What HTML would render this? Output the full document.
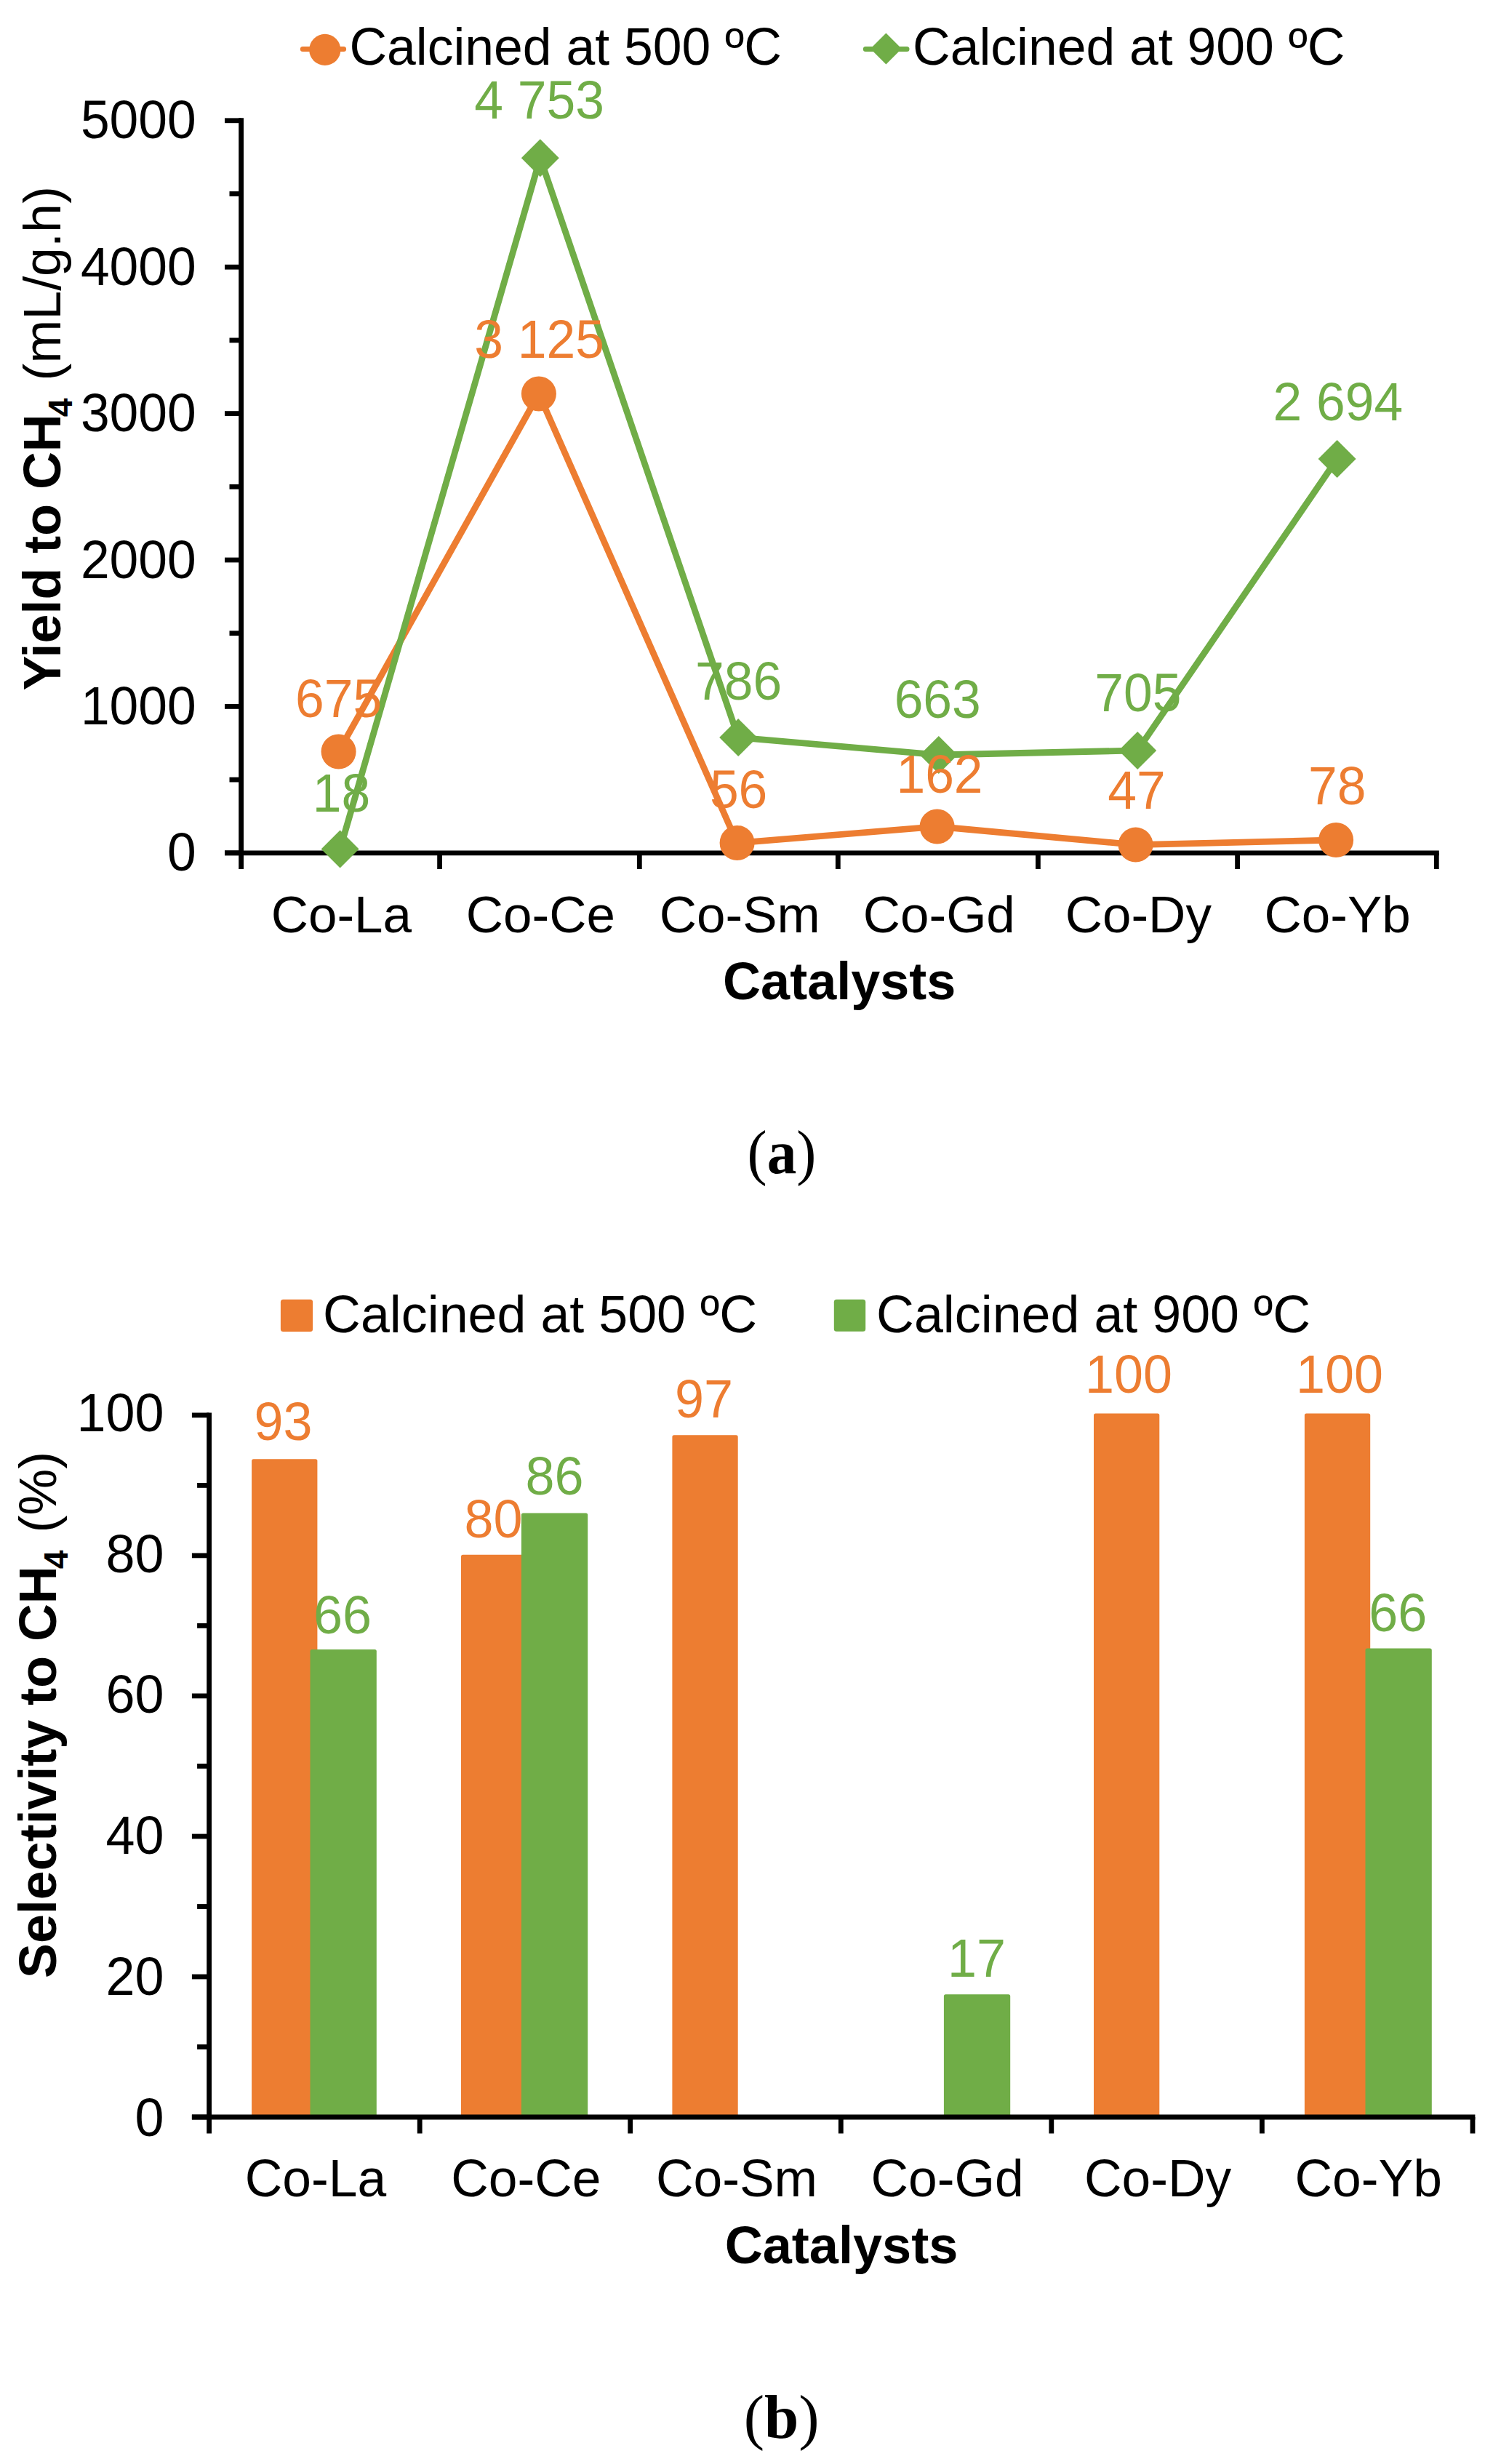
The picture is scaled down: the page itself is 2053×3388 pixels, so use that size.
<!DOCTYPE html>
<html lang="en"><head><meta charset="utf-8"><title>Figure</title>
<style>
html,body{margin:0;padding:0;background:#fff}
svg{display:block}
text{font-family:"Liberation Sans",Arial,sans-serif}
text.sf{font-family:"Liberation Serif","Times New Roman",serif}
</style></head><body>
<svg width="2053" height="3388" viewBox="0 0 2053 3388">
<rect width="2053" height="3388" fill="#fff"/>
<g stroke="#000" stroke-width="6.8" fill="none">
<path d="M331.6 162.3V1195"/>
<path d="M309 1172.8H1978.8"/>
<path d="M309 1172.8H331.6"/>
<path d="M315.5 1072.1H331.6"/>
<path d="M309 971.4H331.6"/>
<path d="M315.5 870.7H331.6"/>
<path d="M309 770.0H331.6"/>
<path d="M315.5 669.3H331.6"/>
<path d="M309 568.6H331.6"/>
<path d="M315.5 467.9H331.6"/>
<path d="M309 367.2H331.6"/>
<path d="M315.5 266.5H331.6"/>
<path d="M309 165.8H331.6"/>
<path d="M604.6 1172.8V1195"/>
<path d="M879.3 1172.8V1195"/>
<path d="M1152.3 1172.8V1195"/>
<path d="M1427.4 1172.8V1195"/>
<path d="M1701.6 1172.8V1195"/>
<path d="M1975.3 1172.8V1195"/>
</g>
<polyline points="465.6,1033.5 740.9,541.5 1013.6,1159.0 1288.6,1136.5 1561.6,1161.6 1837.1,1155.0" fill="none" stroke="#ED7D31" stroke-width="8.8" stroke-linejoin="round"/>
<circle cx="465.6" cy="1033.5" r="24" fill="#ED7D31"/>
<circle cx="740.9" cy="541.5" r="24" fill="#ED7D31"/>
<circle cx="1013.6" cy="1159.0" r="24" fill="#ED7D31"/>
<circle cx="1288.6" cy="1136.5" r="24" fill="#ED7D31"/>
<circle cx="1561.6" cy="1161.6" r="24" fill="#ED7D31"/>
<circle cx="1837.1" cy="1155.0" r="24" fill="#ED7D31"/>
<polyline points="467.6,1167.5 742.8,217.2 1015.2,1014.1 1290.8,1038.0 1564.2,1031.9 1838.6,631.1" fill="none" stroke="#70AD47" stroke-width="8.8" stroke-linejoin="round"/>
<path d="M441.6 1167.5L467.6 1141.5L493.6 1167.5L467.6 1193.5Z" fill="#70AD47"/>
<path d="M716.8 217.2L742.8 191.2L768.8 217.2L742.8 243.2Z" fill="#70AD47"/>
<path d="M989.2 1014.1L1015.2 988.1L1041.2 1014.1L1015.2 1040.1Z" fill="#70AD47"/>
<path d="M1264.8 1038.0L1290.8 1012.0L1316.8 1038.0L1290.8 1064.0Z" fill="#70AD47"/>
<path d="M1538.2 1031.9L1564.2 1005.9L1590.2 1031.9L1564.2 1057.9Z" fill="#70AD47"/>
<path d="M1812.6 631.1L1838.6 605.1L1864.6 631.1L1838.6 657.1Z" fill="#70AD47"/>
<text transform="translate(269.7,1197.3) scale(1,1.028)" font-size="71.4" fill="#000" text-anchor="end">0</text>
<text transform="translate(269.7,995.9) scale(1,1.028)" font-size="71.4" fill="#000" text-anchor="end">1000</text>
<text transform="translate(269.7,794.5) scale(1,1.028)" font-size="71.4" fill="#000" text-anchor="end">2000</text>
<text transform="translate(269.7,593.1) scale(1,1.028)" font-size="71.4" fill="#000" text-anchor="end">3000</text>
<text transform="translate(269.7,391.7) scale(1,1.028)" font-size="71.4" fill="#000" text-anchor="end">4000</text>
<text transform="translate(269.7,190.3) scale(1,1.028)" font-size="71.4" fill="#000" text-anchor="end">5000</text>
<text x="469.4" y="1282.0" font-size="71.0" fill="#000" text-anchor="middle" font-weight="normal" >Co-La</text>
<text x="743.4" y="1282.0" font-size="71.0" fill="#000" text-anchor="middle" font-weight="normal" >Co-Ce</text>
<text x="1017.3" y="1282.0" font-size="71.0" fill="#000" text-anchor="middle" font-weight="normal" >Co-Sm</text>
<text x="1291.3" y="1282.0" font-size="71.0" fill="#000" text-anchor="middle" font-weight="normal" >Co-Gd</text>
<text x="1565.3" y="1282.0" font-size="71.0" fill="#000" text-anchor="middle" font-weight="normal" >Co-Dy</text>
<text x="1839.2" y="1282.0" font-size="71.0" fill="#000" text-anchor="middle" font-weight="normal" >Co-Yb</text>
<text x="1154.2" y="1373.5" font-size="72" fill="#000" text-anchor="middle" font-weight="bold" >Catalysts</text>
<text transform="translate(83,949.6) rotate(-90)" font-size="71.8" font-weight="bold">Yield to CH<tspan font-size="46.5" dy="16" dx="-3.8">4</tspan><tspan dy="-16" dx="3.8" font-weight="normal"> (mL/g.h)</tspan></text>
<path d="M416.3 67.5H472.6" stroke="#ED7D31" stroke-width="7" stroke-linecap="round"/>
<circle cx="446.8" cy="68.4" r="21.6" fill="#ED7D31"/>
<text x="480.4" y="88.8" font-size="71.5" fill="#000" text-anchor="start" font-weight="normal" >Calcined at 500 ºC</text>
<path d="M1190.3 67.5H1247" stroke="#70AD47" stroke-width="7" stroke-linecap="round"/>
<path d="M1196.9 67L1218.4 45.5L1239.9 67L1218.4 88.5Z" fill="#70AD47"/>
<text x="1255.0" y="88.8" font-size="71.5" fill="#000" text-anchor="start" font-weight="normal" >Calcined at 900 ºC</text>
<text transform="translate(465.6,986.0) scale(1,1.028)" font-size="71.4" fill="#ED7D31" text-anchor="middle">675</text>
<text transform="translate(741.6,491.6) scale(1,1.028)" font-size="71.4" fill="#ED7D31" text-anchor="middle">3 125</text>
<text transform="translate(1015.6,1111.0) scale(1,1.028)" font-size="71.4" fill="#ED7D31" text-anchor="middle">56</text>
<text transform="translate(1292.0,1089.5) scale(1,1.028)" font-size="71.4" fill="#ED7D31" text-anchor="middle">162</text>
<text transform="translate(1563.0,1111.8) scale(1,1.028)" font-size="71.4" fill="#ED7D31" text-anchor="middle">47</text>
<text transform="translate(1838.7,1105.7) scale(1,1.028)" font-size="71.4" fill="#ED7D31" text-anchor="middle">78</text>
<text transform="translate(469.5,1116.3) scale(1,1.028)" font-size="71.4" fill="#70AD47" text-anchor="middle">18</text>
<text transform="translate(741.6,163.0) scale(1,1.028)" font-size="71.4" fill="#70AD47" text-anchor="middle">4 753</text>
<text transform="translate(1015.6,962.0) scale(1,1.028)" font-size="71.4" fill="#70AD47" text-anchor="middle">786</text>
<text transform="translate(1289.2,986.5) scale(1,1.028)" font-size="71.4" fill="#70AD47" text-anchor="middle">663</text>
<text transform="translate(1564.8,978.0) scale(1,1.028)" font-size="71.4" fill="#70AD47" text-anchor="middle">705</text>
<text transform="translate(1839.8,577.7) scale(1,1.028)" font-size="71.4" fill="#70AD47" text-anchor="middle">2 694</text>
<text transform="translate(1075,1613.2) scale(0.957,1)" class="sf" font-size="85" text-anchor="middle">(<tspan font-weight="bold">a</tspan>)</text>
<rect x="346.1" y="2006.3" width="90.3" height="904.7" rx="2.5" fill="#ED7D31"/>
<rect x="426.5" y="2268" width="91.3" height="643.0" rx="2.5" fill="#70AD47"/>
<rect x="634.0" y="2137.8" width="90.3" height="773.2" rx="2.5" fill="#ED7D31"/>
<rect x="716.9" y="2080.4" width="91.3" height="830.6" rx="2.5" fill="#70AD47"/>
<rect x="924.4" y="1973.3" width="90.3" height="937.7" rx="2.5" fill="#ED7D31"/>
<rect x="1297.9" y="2742.3" width="91.3" height="168.7" rx="2.5" fill="#70AD47"/>
<rect x="1504.0" y="1943.4" width="90.3" height="967.6" rx="2.5" fill="#ED7D31"/>
<rect x="1793.9" y="1943.4" width="90.3" height="967.6" rx="2.5" fill="#ED7D31"/>
<rect x="1877.5" y="2266.4" width="91.3" height="644.6" rx="2.5" fill="#70AD47"/>
<g stroke="#000" stroke-width="6.8" fill="none">
<path d="M287.6 1942.4V2933.5"/>
<path d="M263.9 2911H2028.4"/>
<path d="M263.9 2911.0H287.6"/>
<path d="M271.1 2814.5H287.6"/>
<path d="M263.9 2718.0H287.6"/>
<path d="M271.1 2621.5H287.6"/>
<path d="M263.9 2525.0H287.6"/>
<path d="M271.1 2428.4H287.6"/>
<path d="M263.9 2331.9H287.6"/>
<path d="M271.1 2235.4H287.6"/>
<path d="M263.9 2138.9H287.6"/>
<path d="M271.1 2042.4H287.6"/>
<path d="M263.9 1945.9H287.6"/>
<path d="M577.2 2911V2933.5"/>
<path d="M866.7 2911V2933.5"/>
<path d="M1156.3 2911V2933.5"/>
<path d="M1445.8 2911V2933.5"/>
<path d="M1735.4 2911V2933.5"/>
<path d="M2025.0 2911V2933.5"/>
</g>
<text transform="translate(225.4,2936.5) scale(1,1.028)" font-size="71.9" fill="#000" text-anchor="end">0</text>
<text transform="translate(225.4,2742.7) scale(1,1.028)" font-size="71.9" fill="#000" text-anchor="end">20</text>
<text transform="translate(225.4,2549.0) scale(1,1.028)" font-size="71.9" fill="#000" text-anchor="end">40</text>
<text transform="translate(225.4,2355.2) scale(1,1.028)" font-size="71.9" fill="#000" text-anchor="end">60</text>
<text transform="translate(225.4,2161.5) scale(1,1.028)" font-size="71.9" fill="#000" text-anchor="end">80</text>
<text transform="translate(225.4,1967.7) scale(1,1.028)" font-size="71.9" fill="#000" text-anchor="end">100</text>
<text x="433.9" y="3020.0" font-size="71.4" fill="#000" text-anchor="middle" font-weight="normal" >Co-La</text>
<text x="723.4" y="3020.0" font-size="71.4" fill="#000" text-anchor="middle" font-weight="normal" >Co-Ce</text>
<text x="1013.0" y="3020.0" font-size="71.4" fill="#000" text-anchor="middle" font-weight="normal" >Co-Sm</text>
<text x="1302.6" y="3020.0" font-size="71.4" fill="#000" text-anchor="middle" font-weight="normal" >Co-Gd</text>
<text x="1592.1" y="3020.0" font-size="71.4" fill="#000" text-anchor="middle" font-weight="normal" >Co-Dy</text>
<text x="1881.7" y="3020.0" font-size="71.4" fill="#000" text-anchor="middle" font-weight="normal" >Co-Yb</text>
<text x="1157.0" y="3112.2" font-size="72.1" fill="#000" text-anchor="middle" font-weight="bold" >Catalysts</text>
<text transform="translate(76.8,2719.9) rotate(-90)" font-size="71.8" font-weight="bold">Selectivity to CH<tspan font-size="46.5" dy="16" dx="-3.8">4</tspan><tspan dy="-16" dx="3.8" font-weight="normal"> (%)</tspan></text>
<rect x="385.9" y="1786.8" width="44.2" height="44.2" rx="3.5" fill="#ED7D31"/>
<text x="444.1" y="1832.3" font-size="71.8" fill="#000" text-anchor="start" font-weight="normal" >Calcined at 500 ºC</text>
<rect x="1146.8" y="1786.8" width="43.4" height="44" rx="3.5" fill="#70AD47"/>
<text x="1205.1" y="1832.3" font-size="71.8" fill="#000" text-anchor="start" font-weight="normal" >Calcined at 900 ºC</text>
<text transform="translate(389.5,1980.2) scale(1,1.028)" font-size="71.9" fill="#ED7D31" text-anchor="middle">93</text>
<text transform="translate(678.6,2113.6) scale(1,1.028)" font-size="71.9" fill="#ED7D31" text-anchor="middle">80</text>
<text transform="translate(968.0,1949.1) scale(1,1.028)" font-size="71.9" fill="#ED7D31" text-anchor="middle">97</text>
<text transform="translate(1552.0,1914.7) scale(1,1.028)" font-size="71.9" fill="#ED7D31" text-anchor="middle">100</text>
<text transform="translate(1842.0,1914.7) scale(1,1.028)" font-size="71.9" fill="#ED7D31" text-anchor="middle">100</text>
<text transform="translate(471.0,2245.5) scale(1,1.028)" font-size="71.9" fill="#70AD47" text-anchor="middle">66</text>
<text transform="translate(762.5,2054.7) scale(1,1.028)" font-size="71.9" fill="#70AD47" text-anchor="middle">86</text>
<text transform="translate(1343.0,2718.1) scale(1,1.028)" font-size="71.9" fill="#70AD47" text-anchor="middle">17</text>
<text transform="translate(1922.2,2243.4) scale(1,1.028)" font-size="71.9" fill="#70AD47" text-anchor="middle">66</text>
<text x="1074.6" y="3352.3" class="sf" font-size="85" text-anchor="middle">(<tspan font-weight="bold">b</tspan>)</text>
</svg>
</body></html>
